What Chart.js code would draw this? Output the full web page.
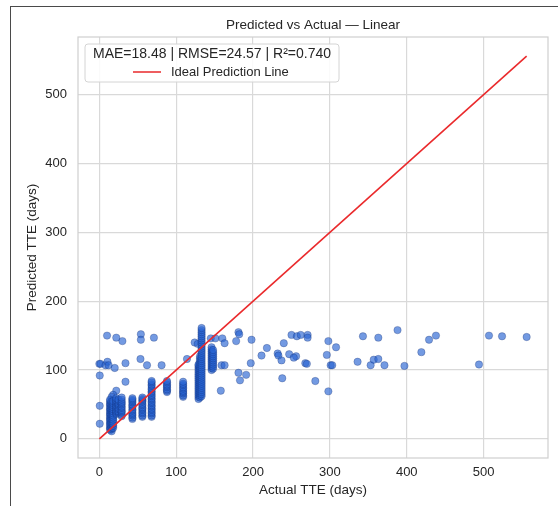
<!DOCTYPE html>
<html>
<head>
<meta charset="utf-8">
<script src="https://cdn.jsdelivr.net/npm/chart.js@4.4.1/dist/chart.umd.min.js"></script>
<style>
  html, body { margin: 0; padding: 0; background: #fff; }
  #wrap { position: relative; width: 558px; height: 506px; overflow: hidden; }
  #frame {
    position: absolute; left: 10px; top: 6px; width: 700px; height: 700px;
    border-left: 1.5px solid #4a4a4a; border-top: 1.5px solid #4a4a4a;
    pointer-events: none;
  }
</style>
</head>
<body>
<div id="wrap">
  <canvas id="scatterChart" width="558" height="506"></canvas>
  <div id="frame"></div>
</div>
<script>
// Predicted vs Actual scatter

const CHART_TITLE = "Predicted vs Actual \u2014 Linear";
const METRICS_TEXT = "MAE=18.48 | RMSE=24.57 | R\u00b2=0.740";
const LINE_LABEL = "Ideal Prediction Line";
const X_TITLE = "Actual TTE (days)";
const Y_TITLE = "Predicted TTE (days)";

const tickValues = [0, 100, 200, 300, 400, 500];
const axisMin = -27.8;
const axisMax = 583.8;

// ideal line runs from min to max actual value
const idealStart = 0;
const idealEnd = 556;

// scattered predictions
const sparseActual = [0, 1.5, 8, 10.5, 12, 0.5, 0.5, 0.5,
  10, 22, 30, 54, 54, 71, 20, 34, 53.5, 62, 81, 34, 22, 18, 16,
  114, 124, 128, 145, 151, 160, 163, 159, 163, 158,
  181, 182, 178, 198, 197, 181, 183, 191,
  218, 211, 232, 233, 237, 238, 240,
  250, 257, 262, 271, 271, 247, 256, 253,
  268, 270, 281, 296, 298, 308, 301, 303, 298,
  343, 336, 353, 357, 363, 363, 371, 388, 397, 419, 429, 438, 494, 507, 524, 556];
const sparsePredicted = [109, 109, 107, 112, 107, 92, 48, 22,
  150, 147, 142, 152, 144, 147, 103, 110, 116, 107, 107, 83, 70, 64, 61,
  116, 140, 138, 146, 146, 146, 139, 107, 107, 70,
  155, 152, 142, 144, 110, 96, 85, 93,
  132, 121, 124, 121, 114, 88, 139,
  151, 149, 151, 151, 147, 123, 120, 118,
  110, 109, 84, 122, 142, 133, 107, 107, 69,
  149, 112, 107, 115, 116, 147, 107, 158, 106, 126, 144, 150, 108, 150, 149, 148];

// dense stacks of predictions at repeated actual values
const stackActual = [14, 16, 18, 22, 25, 29, 43, 56, 68, 88, 109, 129, 131, 133, 146, 148];
const stackPredicted = [
  [13, 15, 17, 20, 22, 24, 27, 29, 31, 34, 36, 38, 41, 43, 45, 48, 50, 52, 55, 57],
  [11, 14, 16, 18, 21, 23, 25, 28, 30, 33, 35, 37, 40, 42, 44, 47, 49, 51, 54],
  [16, 19, 22, 25, 28, 31, 34, 37, 40, 43, 46, 49, 52, 55],
  [36, 38, 40, 42, 45, 47, 49, 52, 54, 56, 59],
  [38, 40, 43, 45, 48, 50, 52, 55, 57],
  [33, 35, 38, 40, 42, 45, 47, 50, 52, 54, 57, 60],
  [29, 31, 34, 36, 38, 41, 43, 46, 48, 50, 53, 55, 57, 59],
  [32, 34, 37, 39, 42, 44, 46, 49, 51, 54, 56, 58, 60],
  [32, 34, 37, 39, 42, 44, 47, 49, 52, 54, 57, 59, 62, 64, 67, 69, 72, 74, 77, 79, 82, 84],
  [68, 70, 72, 75, 77, 79, 82, 84],
  [61, 63, 66, 68, 70, 73, 75, 78, 80, 83],
  [58, 61, 64, 67, 70, 73, 76, 79, 82, 85, 88, 91, 94, 97, 100, 103, 106, 108],
  [60, 63, 66, 69, 72, 75, 78, 81, 84, 87, 90, 93, 96, 99, 102, 105, 108, 111, 114, 117, 120],
  [62, 65, 68, 71, 74, 77, 80, 83, 86, 89, 92, 95, 98, 101, 104, 107, 110, 113, 116, 119, 122, 125, 128, 131, 134, 137, 140, 143, 146, 149, 152, 155, 158, 161],
  [100, 103, 106, 109, 112, 115, 118, 121, 124, 127, 130, 133],
  [102, 105, 108, 111, 114, 117, 120, 123, 126, 129]
];

const FONT = "'Liberation Sans', Arial, sans-serif";
const TEXT_COLOR = "#262626";

const scatterPoints = sparseActual.map((x, i) => ({ x: x, y: sparsePredicted[i] }));
stackActual.forEach((x, i) => {
  stackPredicted[i].forEach(y => scatterPoints.push({ x: x, y: y }));
});

// plot box, title and in-axes legend
const framePlugin = {
  id: "plotFrame",
  afterDraw(chart) {
    const { ctx, chartArea: a } = chart;
    ctx.save();
    ctx.strokeStyle = "#cfcfcf";
    ctx.lineWidth = 1.2;
    ctx.strokeRect(a.left, a.top, a.right - a.left, a.bottom - a.top);

    ctx.fillStyle = TEXT_COLOR;
    ctx.font = "13.5px " + FONT;
    ctx.textAlign = "center";
    ctx.textBaseline = "middle";
    ctx.fillText(CHART_TITLE, (a.left + a.right) / 2, a.top - 12);

    // legend box
    const bx = a.left + 7, by = a.top + 7, bw = 254, bh = 38;
    ctx.beginPath();
    ctx.roundRect(bx, by, bw, bh, 3);
    ctx.fillStyle = "rgba(255,255,255,0.85)";
    ctx.fill();
    ctx.strokeStyle = "#d4d4d4";
    ctx.lineWidth = 1;
    ctx.stroke();

    ctx.fillStyle = TEXT_COLOR;
    ctx.font = "14px " + FONT;
    ctx.fillText(METRICS_TEXT, bx + bw / 2, by + 10.5);

    ctx.strokeStyle = "#e8292b";
    ctx.lineWidth = 1.5;
    ctx.beginPath();
    ctx.moveTo(bx + 48, by + 28);
    ctx.lineTo(bx + 76, by + 28);
    ctx.stroke();

    ctx.textAlign = "left";
    ctx.font = "13px " + FONT;
    ctx.fillText(LINE_LABEL, bx + 86, by + 28);
    ctx.restore();
  }
};

const ctx = document.getElementById("scatterChart");
new Chart(ctx, {
  type: "scatter",
  data: {
    datasets: [
      {
        type: "line",
        label: LINE_LABEL,
        data: [{ x: idealStart, y: idealStart }, { x: idealEnd, y: idealEnd }],
        borderColor: "#ea2a2c",
        borderWidth: 1.6,
        pointRadius: 0,
        fill: false
      },
      {
        label: "Predictions",
        data: scatterPoints,
        backgroundColor: "rgba(40, 100, 210, 0.65)",
        borderColor: "rgba(10, 30, 90, 0.42)",
        borderWidth: 0.6,
        pointRadius: 3.7
      }
    ]
  },
  options: {
    responsive: false,
    animation: false,
    layout: { padding: { top: 37, left: 20, right: 10, bottom: 0 } },
    plugins: {
      legend: { display: false },
      title: { display: false },
      tooltip: { enabled: false }
    },
    scales: {
      x: {
        type: "linear",
        min: axisMin,
        max: axisMax,
        afterFit: s => { s.height = 48; },
        afterBuildTicks: s => { s.ticks = tickValues.map(v => ({ value: v })); },
        grid: { color: "#d9d9d9", lineWidth: 1.2, drawTicks: false },
        border: { display: false },
        ticks: { color: TEXT_COLOR, font: { family: FONT, size: 13 }, padding: 7, includeBounds: false },
        title: { display: true, text: X_TITLE, color: TEXT_COLOR, font: { family: FONT, size: 13.5 }, padding: { top: 0, bottom: 8 } }
      },
      y: {
        type: "linear",
        min: axisMin,
        max: axisMax,
        afterFit: s => { s.width = 58; },
        afterBuildTicks: s => { s.ticks = tickValues.map(v => ({ value: v })); },
        grid: { color: "#d9d9d9", lineWidth: 1.2, drawTicks: false },
        border: { display: false },
        ticks: { color: TEXT_COLOR, font: { family: FONT, size: 13 }, padding: 11, includeBounds: false },
        title: { display: true, text: Y_TITLE, color: TEXT_COLOR, font: { family: FONT, size: 13.5 }, padding: { top: 4, bottom: 0 } }
      }
    }
  },
  plugins: [framePlugin]
});
</script>
</body>
</html>
